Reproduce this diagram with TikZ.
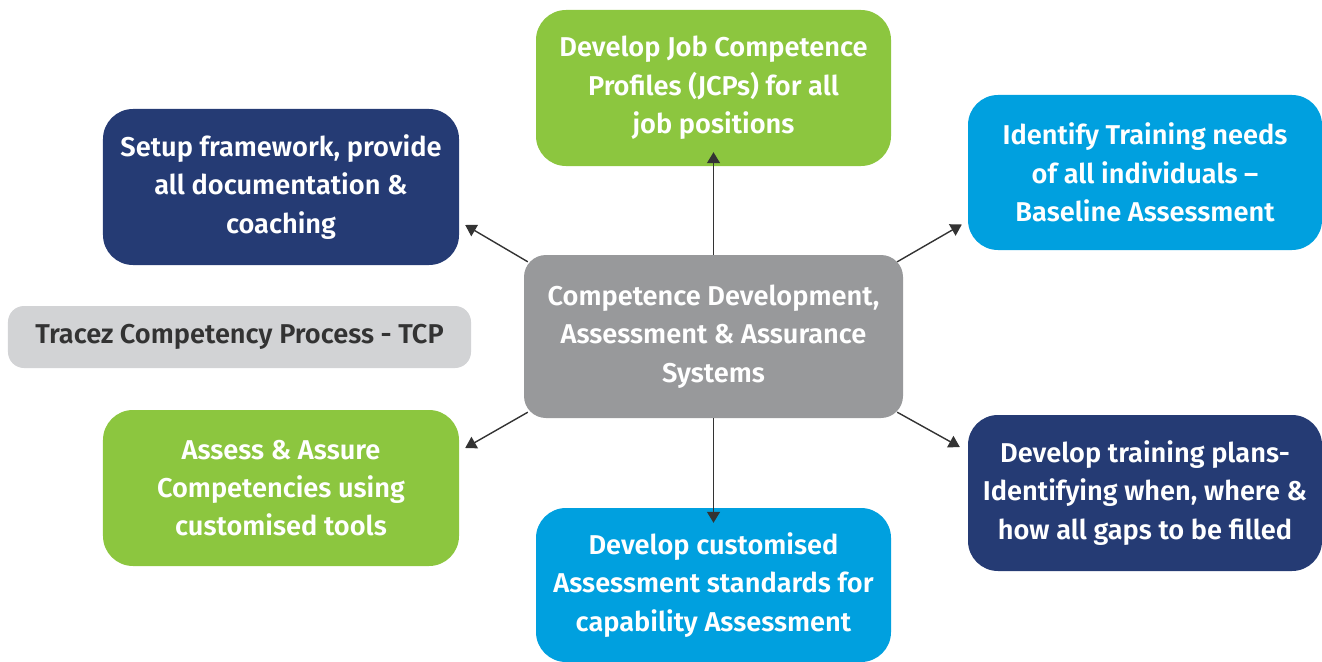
\documentclass[tikz,border=0pt]{standalone}
\usepackage{fontspec}
\setmainfont{Fira Sans}[BoldFont={Fira Sans SemiBold}]
\usetikzlibrary{arrows.meta,calc}
\definecolor{cgreen}{HTML}{8CC63F}
\definecolor{cnavy}{HTML}{253B74}
\definecolor{ccyan}{HTML}{00A0DF}
\definecolor{cgray}{HTML}{98999B}
\definecolor{clight}{HTML}{D2D3D5}
\definecolor{cline}{HTML}{333333}
\begin{document}
\begin{tikzpicture}[x=1bp,y=-1bp,
  box/.style={rounded corners=30bp, inner sep=0pt, align=center, text=white,
    font=\fontsize{27.3}{38.5}\selectfont\bfseries},
  arr/.style={draw=cline, line width=1.4bp, -{Triangle[length=11bp,width=13bp]}}]
\useasboundingbox (0,0) rectangle (1322,661);
\node[box, fill=cgreen, minimum width=355bp, minimum height=156bp] (jcp) at (713.5,88)
  {Develop Job Competence\\Profiles (JCPs) for all\\job positions};
\node[box, fill=cnavy, minimum width=356bp, minimum height=156bp] (setup) at (281,187)
  {Setup framework, provide\\all documentation \&\\coaching};
\node[box, fill=ccyan, minimum width=354bp, minimum height=155bp] (ident) at (1145,172.5)
  {Identify Training needs\\of all individuals --\\Baseline Assessment};
\node[box, rounded corners=16bp, fill=clight, text=cline, minimum width=463bp, minimum height=62bp] (tcp) at (239.5,337)
  {Tracez Competency Process - TCP};
\node[box, rounded corners=22bp, fill=cgray, minimum width=379bp, minimum height=163bp] (center) at (713.5,336.5)
  {Competence Development,\\Assessment \& Assurance\\Systems};
\node[box, fill=cgreen, minimum width=356bp, minimum height=156bp] (assess) at (281,488)
  {Assess \& Assure\\Competencies using\\customised tools};
\node[box, fill=ccyan, minimum width=355bp, minimum height=154bp] (custom) at (713.5,585)
  {Develop customised\\Assessment standards for\\capability Assessment};
\node[box, fill=cnavy, minimum width=354bp, minimum height=156bp] (plans) at (1145,493)
  {Develop training plans-\\Identifying when, where \&\\how all gaps to be filled};
\draw[arr] (center.north) -- ([yshift=14bp]jcp.south);
\draw[arr] (center.south) -- ([yshift=-15bp]custom.north);
\draw[arr] ([shift={(4,7)}]center.north west) -- ([shift={(6,38)}]setup.east);
\draw[arr] ([shift={(4,-6)}]center.south west) -- ([shift={(6,-40)}]assess.east);
\draw[arr] ([shift={(-6,7)}]center.north east) -- ([shift={(-6,52)}]ident.west);
\draw[arr] ([shift={(-6,-6)}]center.south east) -- ([shift={(-8,-46)}]plans.west);
\end{tikzpicture}
\end{document}
